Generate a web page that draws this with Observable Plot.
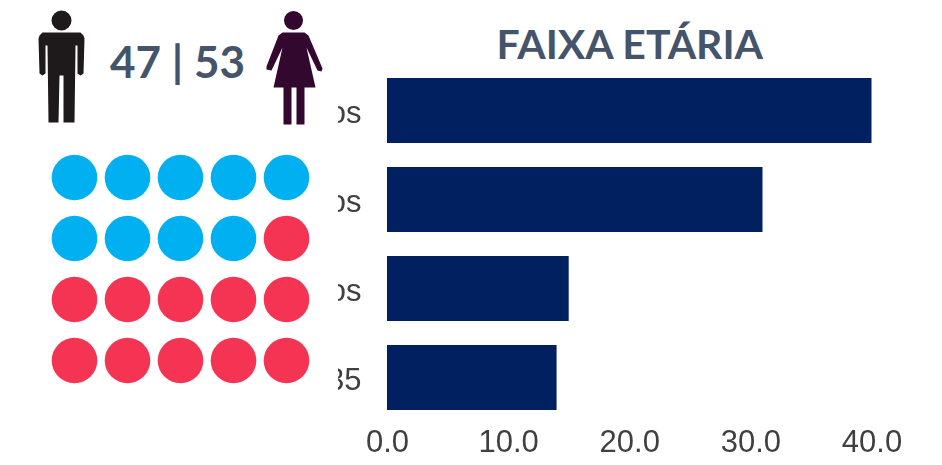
<!DOCTYPE html>
<html>
<head>
<meta charset="utf-8">
<script src="https://cdn.jsdelivr.net/npm/d3@7"></script>
<script src="https://cdn.jsdelivr.net/npm/@observablehq/plot@0.6"></script>
<style>
html,body{margin:0;padding:0;background:#fff}
#chart{position:relative;width:942px;height:465px;overflow:hidden;background:#fff}
#chart svg{position:absolute;background:transparent}
</style>
</head>
<body>
<div id="chart"></div>
<script>
// Data
const title = "FAIXA ETÁRIA";
const split = "47 | 53";
const ageLabels = ["os", "os", "os", "35"];
const ageValues = [40, 31, 15, 14];
const xTicks = [0, 10, 20, 30, 40];
const dotsMen = 9;
const dotColumns = [0, 1, 2, 3, 4];
const dotRows = [0, 1, 2, 3];

const navy = "#00205f", blue = "#00b0f0", red = "#f53353", slate = "#44546a";
const chart = document.getElementById("chart");
const place = (svg, left, top) => { svg.style.left = left + "px"; svg.style.top = top + "px"; chart.appendChild(svg); };

// Pictogram symbols: outline in icon units about the figure's centre
function pictogram(outline, head) {
  return {
    draw(ctx, size) {
      const s = Math.sqrt(size / Math.PI) / 56;
      ctx.moveTo((head[0] + head[2]) * s, head[1] * s);
      ctx.arc(head[0] * s, head[1] * s, head[2] * s, 0, 2 * Math.PI);
      ctx.closePath();
      outline.forEach(([x, y], i) => i ? ctx.lineTo(x * s, y * s) : ctx.moveTo(x * s, y * s));
      ctx.closePath();
    }
  };
}
const manSymbol = pictogram(
  [[-19,-36],[19,-36],[22,-33],[23,-30],[22,5],[19,7],[16,5],[16,-23],[14,-23],[13,54],[2,54],[2,7],[-2,7],[-3,54],[-13,54],[-14,-23],[-16,-23],[-16,5],[-19,7],[-22,5],[-23,-30],[-22,-33]],
  [0, -48, 10]);
const womanSymbol = pictogram(
  [[-11,-36],[11,-36],[15,-33],[29,0],[28,3],[24,2],[13,-21],[22,19],[11,19],[11,56],[3,56],[3,19],[-2,19],[-2,56],[-10,56],[-10,19],[-20,19],[-11,-21],[-22,2],[-27,1],[-27,-2],[-15,-33]],
  [0, -48, 9.5]);

// Header: man, ratio, woman
const header = ["man", "ratio", "woman"];
place(Plot.plot({
  width: 338, height: 140, margin: 0,
  x: {type: "point", domain: header, range: [61, 293], padding: 0, axis: null},
  y: {domain: [0, 1], range: [68, 0], axis: null},
  marks: [
    Plot.dot(["man"], {x: d => d, y: () => 0, r: 56, symbol: manSymbol, fill: "#1e1a1c", stroke: "none", imageFilter: "blur(0.7px)"}),
    Plot.dot(["woman"], {x: d => d, y: () => 0, r: 56, symbol: womanSymbol, fill: "#32082e", stroke: "none", imageFilter: "blur(0.7px)"}),
    Plot.text([split], {x: () => "ratio", y: () => 0, dy: -5, text: d => d, fontFamily: "Lato", fontWeight: 700, fontSize: 44, fill: slate})
  ]
}), 0, 0);

// Waffle of 20 dots
const waffle = dotRows.flatMap(r => dotColumns.map(c => ({r, c, man: r * dotColumns.length + c < dotsMen})));
place(Plot.plot({
  width: 338, height: 325, margin: 0,
  x: {type: "point", domain: dotColumns, range: [74, 286.5], padding: 0, axis: null},
  y: {type: "point", domain: dotRows, range: [37, 220], padding: 0, axis: null},
  marks: [
    Plot.dot(waffle, {x: "c", y: "r", r: 22.8, fill: d => d.man ? blue : red, stroke: "none"})
  ]
}), 0, 140);

// Age bars
const ages = ageValues.map((value, i) => ({i, value}));
place(Plot.plot({
  width: 604, height: 465,
  marginLeft: 49, marginRight: 70.5, marginTop: 77.7, marginBottom: 54.3,
  x: {domain: [0, 40], axis: null},
  y: {type: "band", domain: ageLabels.map((_, i) => i), paddingInner: 0.275, paddingOuter: 0, axis: null},
  marks: [
    Plot.barX(ages, {x: "value", y: "i", fill: navy, imageFilter: "blur(0.5px)"}),
    Plot.axisY({anchor: "left", tickSize: 0, tickPadding: 26, dy: 2, tickFormat: i => ageLabels[i], fontSize: 31, fontFamily: "Liberation Sans", color: "#404040", imageFilter: "blur(0.5px)", label: null}),
    Plot.axisX({anchor: "bottom", ticks: xTicks, tickSize: 0, tickPadding: 19, tickFormat: d3.format(".1f"), fontSize: 31, fontFamily: "Liberation Sans", color: "#404040", imageFilter: "blur(0.5px)", label: null}),
    Plot.text([title], {x: () => 20, frameAnchor: "top", dy: -48.5, text: d => d, fontFamily: "Lato", fontWeight: 700, fontSize: 41, fill: slate})
  ]
}), 338, 0);
</script>
</body>
</html>
